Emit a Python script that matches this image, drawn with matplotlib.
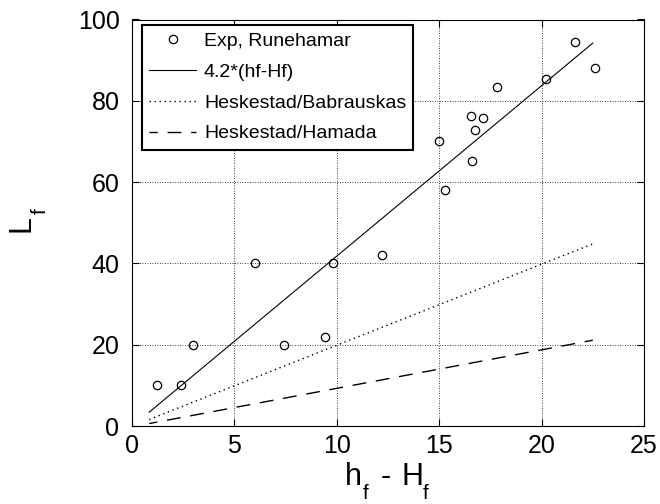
import matplotlib
matplotlib.use('Agg')
import matplotlib.pyplot as plt

plt.rcParams['font.family'] = ['Liberation Sans', 'DejaVu Sans']

# experimental points (Runehamar)
exp_x = [1.2, 2.4, 3.0, 6.0, 7.4, 9.4, 9.8, 12.2, 15.0, 15.3, 16.55, 17.15, 16.75, 16.6, 17.8, 20.2, 21.65, 22.6]
exp_y = [10, 10, 20, 40, 20, 22, 40, 42, 70, 58, 76.3, 75.8, 72.8, 65.3, 83.4, 85.4, 94.5, 88.1]

# model lines (end points)
fit_x = [0.84, 22.5]
fit_y = [3.4, 94.2]
bab_x = [0.84, 22.5]
bab_y = [1.6, 44.8]
ham_x = [0.84, 22.5]
ham_y = [0.6, 21.1]

labels = ['Exp, Runehamar', '4.2*(hf-Hf)', 'Heskestad/Babrauskas', 'Heskestad/Hamada']

W, H = 660, 504
fig = plt.figure(figsize=(6.6, 5.04), dpi=100)
ax = fig.add_axes([132 / W, 1 - 426 / H, 512 / W, 406.5 / H])

ax.plot(exp_x, exp_y, 'o', mfc='none', mec='k', ms=6, mew=0.9, label=labels[0])
ax.plot(fit_x, fit_y, 'k-', lw=0.8, label=labels[1])
ax.plot(bab_x, bab_y, 'k', ls=(0, (1, 2.6)), lw=1.0, label=labels[2])
ax.plot(ham_x, ham_y, 'k', ls=(4, (10, 7)), lw=1.0, label=labels[3])

ax.set_xlim(0, 25)
ax.set_ylim(0, 100)
ax.set_xticks([0, 5, 10, 15, 20, 25])
ax.set_yticks([0, 20, 40, 60, 80, 100])
ax.grid(True, color='k', ls=(0, (1, 2)), lw=0.6)
ax.tick_params(direction='in', top=True, right=True, labelsize=18, length=5, width=0.8)
ax.tick_params(axis='y', pad=9)
ax.tick_params(axis='x', pad=6)
for s in ax.spines.values():
    s.set_linewidth(0.8)

# axis labels in pieces, subscripts dropped well below the baseline
def put(x, y, s, size, rot=0):
    fig.text(x / W, 1 - y / H, s, fontsize=size, ha='left', va='baseline',
             rotation=rot, rotation_mode='anchor')

put(345, 485, 'h', 22)
put(363, 499, 'f', 15)
put(381, 485, '-', 22)
put(401, 485, 'H', 22)
put(423, 499, 'f', 15)

put(30, 232, 'L', 22, rot=90)
put(46, 214, 'f', 15, rot=90)

leg = ax.legend(loc='upper left', bbox_to_anchor=(0.02, 0.986), fontsize=14, numpoints=1,
                handlelength=2.4, handletextpad=0.4, labelspacing=0.68, borderpad=0.37,
                fancybox=False, framealpha=1, edgecolor='k', borderaxespad=0)
leg.get_frame().set_linewidth(1.5)

plt.savefig('out.png', dpi=100)
